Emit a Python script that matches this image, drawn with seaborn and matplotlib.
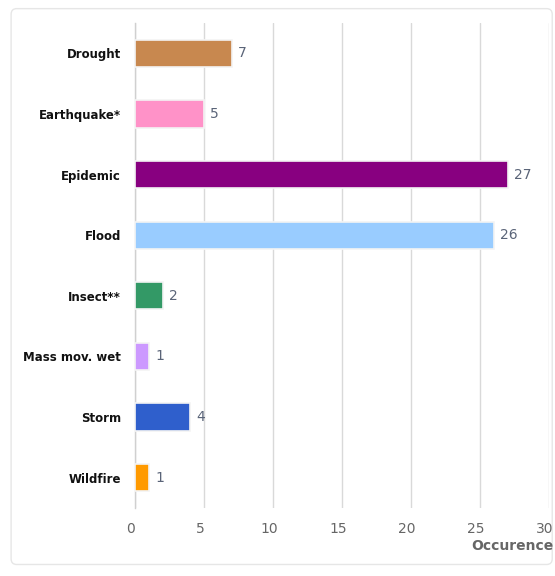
import matplotlib
matplotlib.use("Agg")
import matplotlib.pyplot as plt
import matplotlib.transforms as mtransforms
from matplotlib.patches import FancyBboxPatch
import seaborn as sns
import pandas as pd

categories = ["Drought", "Earthquake*", "Epidemic", "Flood", "Insect**",
              "Mass mov. wet", "Storm", "Wildfire"]
occurrences = [7, 5, 27, 26, 2, 1, 4, 1]
bar_colors = ["#C8884F", "#FF92C8", "#880080", "#99CCFF", "#339966",
              "#CC99FF", "#2F5FCC", "#FF9A00"]
x_ticks = [0, 5, 10, 15, 20, 25, 30]

df = pd.DataFrame({"category": categories, "occurrence": occurrences})

sns.set_theme(style="white")
plt.rcParams["font.family"] = ["DejaVu Sans"]

fig = plt.figure(figsize=(5.55, 5.76), dpi=100)
fig.patch.set_facecolor("white")

# light rounded frame around the chart
frame = FancyBboxPatch((0.02, 0.02), 0.975, 0.965,
                       boxstyle="round,pad=0,rounding_size=0.01",
                       transform=fig.transFigure, facecolor="none",
                       edgecolor="#E6E6E6", linewidth=1.0, zorder=-5)
fig.patches.append(frame)

ax = fig.add_axes([0.2432, 0.118, 0.746, 0.842])
ax.set_facecolor("none")

sns.barplot(data=df, y="category", x="occurrence", hue="category",
            palette=bar_colors, saturation=1, orient="h", width=0.45,
            legend=False, edgecolor="#F4F4F4", linewidth=1.2, ax=ax,
            zorder=3)

ax.set_xlim(0, 30)
ax.set_ylim(len(categories) - 0.5, -0.5)
ax.set_xticks(x_ticks)
ax.set_xticklabels([str(t) for t in x_ticks], fontsize=10, color="#666666")
ax.tick_params(axis="x", length=0, pad=10)
ax.tick_params(axis="y", length=0, pad=10)
shift = mtransforms.ScaledTranslation(-4 / 100, 0, fig.dpi_scale_trans)
for lbl in ax.get_xticklabels():
    lbl.set_transform(lbl.get_transform() + shift)
for lbl in ax.get_yticklabels():
    lbl.set_fontweight("bold")
    lbl.set_fontsize(8.5)
    lbl.set_color("#111111")

ax.xaxis.grid(True, color="#D9D9D9", linewidth=1.0, zorder=0)
ax.yaxis.grid(False)
for side in ["top", "right", "bottom"]:
    ax.spines[side].set_visible(False)
ax.spines["left"].set_color("#D0D0D0")
ax.spines["left"].set_linewidth(1.0)

ax.set_ylabel("")
ax.set_xlabel("")
ax.text(1.01, -0.078, "Occurence", transform=ax.transAxes, ha="right",
        va="center", fontsize=10, color="#666666", fontweight="bold")

for i, v in enumerate(occurrences):
    ax.text(v + 0.45, i, str(v), va="center", ha="left", fontsize=10,
            color="#5A6478", zorder=4)

fig.savefig("out.png", dpi=100, facecolor="white")
